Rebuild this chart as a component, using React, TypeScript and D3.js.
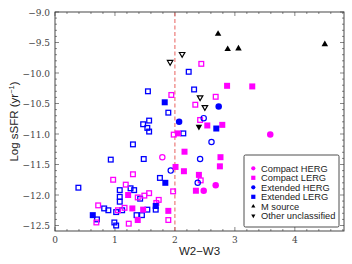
import React, { useEffect, useRef } from 'react';
import * as d3 from 'd3';

// points: [W2-W3, log sSFR]
const compactHerg = [[3.59, -11.01], [2.68, -11.84], [2.48, -11.93]];
const compactHergOpen = [[1.79, -11.38]];
const compactLerg = [
  [2.87, -10.21], [3.29, -10.22], [2.54, -10.86], [2.79, -10.85], [2.05, -10.99],
  [2.16, -11.29], [2.76, -11.38], [2.75, -11.53], [2.01, -11.54], [2.15, -11.61],
  [2.40, -11.67], [2.35, -11.93], [1.22, -12.0], [1.29, -12.22], [1.47, -12.24],
  [1.38, -12.41], [1.89, -12.26],
];
const compactLergOpen = [
  [2.44, -9.85], [1.94, -10.36], [2.68, -10.39], [2.34, -10.52], [2.42, -10.77],
  [1.98, -11.01], [2.43, -11.76], [1.97, -11.94], [1.30, -11.66], [0.97, -11.75],
  [1.18, -11.83], [1.38, -12.04], [1.49, -12.01], [1.57, -11.97], [1.69, -12.13],
  [1.73, -12.08], [1.16, -12.21], [1.05, -12.25], [0.72, -12.17], [0.69, -12.45],
  [1.23, -12.47], [1.89, -12.41],
];
const extendedHerg = [[2.07, -10.80], [2.73, -10.55]];
const extendedHergOpen = [[1.93, -11.60], [2.48, -10.74], [2.61, -11.13], [2.42, -11.41], [2.38, -11.80]];
const extendedLerg = [[1.83, -10.48], [2.69, -10.91], [1.84, -11.80], [0.63, -12.33], [1.68, -12.18]];
const extendedLergOpen = [
  [2.23, -9.98], [2.32, -10.27], [1.55, -10.30], [1.89, -10.65], [1.57, -10.78],
  [1.47, -10.84], [1.54, -10.90], [1.57, -10.96], [2.14, -10.99], [1.30, -11.17],
  [0.93, -11.42], [1.48, -11.41], [1.75, -11.72], [0.39, -11.88], [1.08, -11.92],
  [1.08, -12.03], [1.08, -12.11], [1.26, -11.89], [1.32, -11.92], [1.42, -12.06],
  [0.82, -12.22], [0.89, -12.25], [1.12, -12.25], [1.02, -12.28], [0.70, -12.40],
  [0.99, -12.45], [1.02, -12.50], [1.36, -12.33], [1.45, -12.33], [1.54, -12.24],
  [1.68, -12.24],
];
const mSource = [[2.72, -9.36], [2.88, -9.61], [3.06, -9.60], [4.50, -9.53]];
const unclassified = [[2.40, -10.88]];
const unclassifiedOpen = [[1.92, -9.82], [2.12, -9.69], [2.42, -10.40], [2.50, -10.56]];

const legendLabels = ['Compact HERG', 'Compact LERG', 'Extended HERG', 'Extended LERG', 'M source', 'Other unclassified'];
const xTicks = [0, 1, 2, 3, 4];
const yTicks = [-12.5, -12.0, -11.5, -11.0, -10.5, -10.0, -9.5, -9.0];
const dividerX = 2;

const MAGENTA = '#ff00ff';
const BLUE = '#0000ff';

export default function App() {
  const svgRef = useRef<SVGSVGElement>(null);

  useEffect(() => {
    const width = 352;
    const height = 264;
    const margin = { top: 12, right: 8, bottom: 33, left: 55 };

    const svg = d3.select(svgRef.current);
    svg.selectAll('*').remove();

    const x = d3.scaleLinear().domain([0, 4.82]).range([margin.left, width - margin.right]);
    const y = d3.scaleLinear().domain([-12.59, -9.0]).range([height - margin.bottom, margin.top]);
    const [x0, x1] = x.range();
    const [y0, y1] = y.range();

    // ticks, pointing inward on all four sides
    const ticks = svg.append('g').attr('stroke', '#555').attr('stroke-width', 0.7);
    const xMinor = d3.range(0, 4.81, 0.2);
    const yMinor = d3.range(-12.5, -8.99, 0.1);
    xMinor.forEach(v => {
      const major = Math.abs(v - Math.round(v)) < 1e-6;
      const len = major ? 4 : 2;
      ticks.append('line').attr('x1', x(v)).attr('x2', x(v)).attr('y1', y0).attr('y2', y0 - len);
      ticks.append('line').attr('x1', x(v)).attr('x2', x(v)).attr('y1', y1).attr('y2', y1 + len);
    });
    yMinor.forEach(v => {
      const major = Math.abs(v * 2 - Math.round(v * 2)) < 1e-6;
      const len = major ? 4 : 2;
      ticks.append('line').attr('y1', y(v)).attr('y2', y(v)).attr('x1', x0).attr('x2', x0 + len);
      ticks.append('line').attr('y1', y(v)).attr('y2', y(v)).attr('x1', x1).attr('x2', x1 - len);
    });

    // tick labels
    const fmt = d3.format('.1f');
    svg.append('g')
      .selectAll('text')
      .data(yTicks)
      .join('text')
      .attr('x', x0 - 5)
      .attr('y', d => y(d) + 3.5)
      .attr('text-anchor', 'end')
      .style('font-family', '"DejaVu Serif", serif')
      .style('font-size', '9px')
      .attr('fill', '#444')
      .text(d => fmt(d));

    svg.append('g')
      .selectAll('text')
      .data(xTicks)
      .join('text')
      .attr('x', d => x(d))
      .attr('y', y0 + 12)
      .attr('text-anchor', 'middle')
      .style('font-family', '"DejaVu Serif", serif')
      .style('font-size', '9px')
      .attr('fill', '#444')
      .text(d => d);

    // axis titles
    svg.append('text')
      .attr('x', (x0 + x1) / 2)
      .attr('y', height - 9)
      .attr('text-anchor', 'middle')
      .style('font-family', '"Liberation Sans", Arial, sans-serif')
      .style('font-size', '11.5px')
      .attr('fill', '#222')
      .text('W2\u2212W3');

    const ylab = svg.append('text')
      .attr('transform', `translate(18, ${(y0 + y1) / 2}) rotate(-90)`)
      .attr('text-anchor', 'middle')
      .style('font-family', '"Liberation Sans", Arial, sans-serif')
      .style('font-size', '11.5px')
      .attr('fill', '#222');
    ylab.append('tspan').text('Log sSFR (yr');
    ylab.append('tspan').attr('dy', -4).style('font-size', '7.5px').text('\u22121');
    ylab.append('tspan').attr('dy', 4).text(')');

    // dashed divider
    svg.append('line')
      .attr('x1', x(dividerX)).attr('x2', x(dividerX))
      .attr('y1', y0).attr('y2', y1)
      .attr('stroke', '#e8605e')
      .attr('stroke-width', 1)
      .attr('stroke-dasharray', '4,2.5');

    // marker drawing helper
    const drawMarker = (g, shape, color, filled, size) => {
      if (shape === 'square') {
        const s = filled ? size : size - 1.3;
        g.append('rect')
          .attr('x', -s / 2).attr('y', -s / 2)
          .attr('width', s).attr('height', s)
          .attr('fill', filled ? color : 'none')
          .attr('stroke', color)
          .attr('stroke-width', filled ? 0 : 1.3);
      } else if (shape === 'circle') {
        const r = filled ? size / 2 : size / 2 - 0.6;
        g.append('circle')
          .attr('r', r)
          .attr('fill', filled ? color : 'none')
          .attr('stroke', color)
          .attr('stroke-width', filled ? 0 : 1.2);
      } else {
        const side = filled ? size : size - 1;
        const tri = d3.symbol().type(d3.symbolTriangle).size(side * side * 0.433)();
        g.append('path')
          .attr('d', tri)
          .attr('transform', shape === 'down' ? 'rotate(180)' : null)
          .attr('fill', filled ? color : 'none')
          .attr('stroke', color)
          .attr('stroke-width', filled ? 0 : 1.2);
      }
    };

    const series = [
      { data: extendedLergOpen, shape: 'square', color: BLUE, filled: false },
      { data: compactLergOpen, shape: 'square', color: MAGENTA, filled: false },
      { data: compactHergOpen, shape: 'circle', color: MAGENTA, filled: false },
      { data: extendedHergOpen, shape: 'circle', color: BLUE, filled: false },
      { data: unclassifiedOpen, shape: 'down', color: '#000', filled: false },
      { data: compactLerg, shape: 'square', color: MAGENTA, filled: true },
      { data: extendedLerg, shape: 'square', color: BLUE, filled: true },
      { data: compactHerg, shape: 'circle', color: MAGENTA, filled: true },
      { data: extendedHerg, shape: 'circle', color: BLUE, filled: true },
      { data: unclassified, shape: 'down', color: '#000', filled: true },
      { data: mSource, shape: 'up', color: '#000', filled: true },
    ];

    const pts = svg.append('g');
    series.forEach(s => {
      s.data.forEach(([vx, vy]) => {
        const g = pts.append('g').attr('transform', `translate(${x(vx)},${y(vy)})`);
        drawMarker(g, s.shape, s.color, s.filled, s.shape === 'square' ? 6 : 6.5);
      });
    });

    // frame
    svg.append('rect')
      .attr('x', x0).attr('y', y1)
      .attr('width', x1 - x0).attr('height', y0 - y1)
      .attr('fill', 'none')
      .attr('stroke', '#333')
      .attr('stroke-width', 0.9);

    // legend
    const legendItems = [
      { shape: 'circle', color: MAGENTA },
      { shape: 'square', color: MAGENTA },
      { shape: 'circle', color: BLUE },
      { shape: 'square', color: BLUE },
      { shape: 'up', color: '#000' },
      { shape: 'down', color: '#000' },
    ];
    const lg = svg.append('g').attr('transform', 'translate(244,155)');
    lg.append('rect')
      .attr('width', 95).attr('height', 72)
      .attr('rx', 1.5)
      .attr('fill', '#fff')
      .attr('stroke', '#222')
      .attr('stroke-width', 0.8);
    legendLabels.forEach((label, i) => {
      const row = lg.append('g').attr('transform', `translate(0, ${13.3 + i * 9.5})`);
      drawMarker(row.append('g').attr('transform', 'translate(9.3,0)'), legendItems[i].shape, legendItems[i].color, true, 4.2);
      row.append('text')
        .attr('x', 17)
        .attr('y', 3.3)
        .style('font-family', '"Liberation Sans", Arial, sans-serif')
        .style('font-size', '9.3px')
        .attr('fill', '#222')
        .text(label);
    });
  }, []);

  return (
    <div style={{ position: 'absolute', left: 0, top: 0 }}>
      <svg ref={svgRef} width={352} height={264} style={{ display: 'block', background: '#fff' }} />
    </div>
  );
}
